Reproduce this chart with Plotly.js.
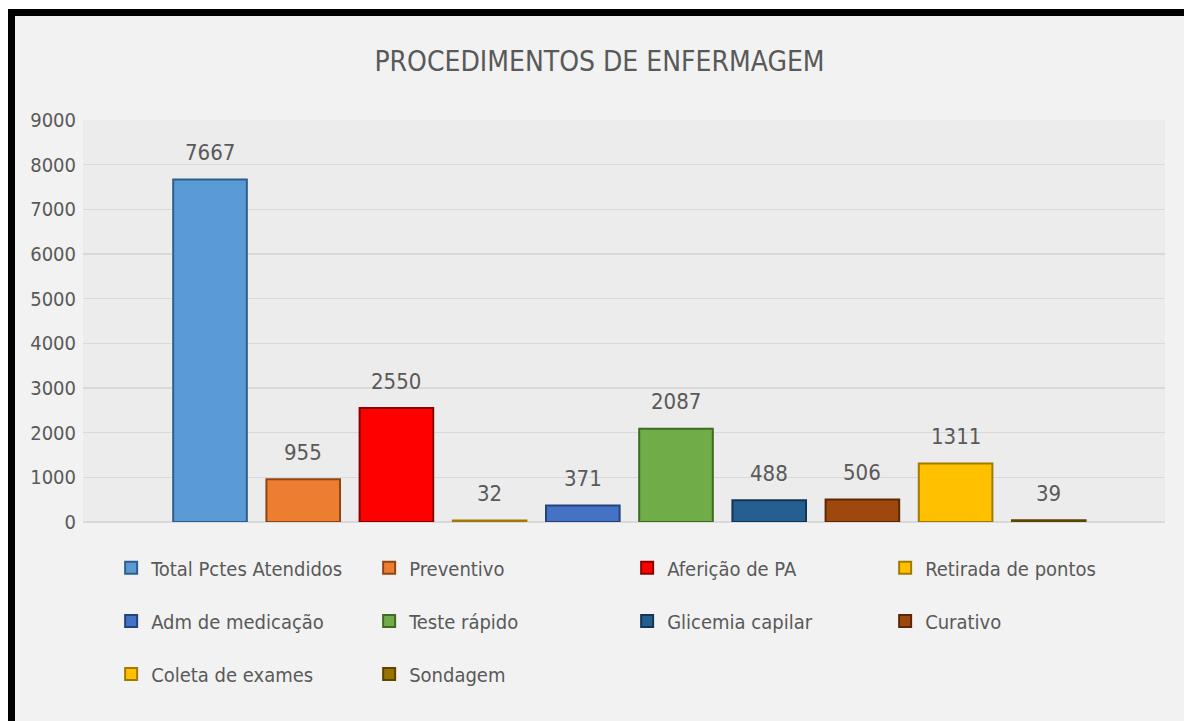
<!DOCTYPE html>
<html>
<head>
<meta charset="utf-8">
<script src="https://cdn.plot.ly/plotly-3.0.1.min.js"></script>
<style>
  html, body { margin: 0; padding: 0; background: #ffffff; width: 1184px; height: 721px; overflow: hidden; }
  #frame { position: absolute; left: 8px; top: 9px; border-left: 7px solid #000; border-top: 7px solid #000; width: 1169px; height: 705px; background: #f2f2f2; }
  #chart { width: 1169px; height: 705px; }
</style>
</head>
<body>
<div id="frame"><div id="chart"></div></div>
<script>
const categories = ['Total Pctes Atendidos', 'Preventivo', 'Aferição de PA', 'Retirada de pontos',
  'Adm de medicação', 'Teste rápido', 'Glicemia capilar', 'Curativo', 'Coleta de exames', 'Sondagem'];
const values = [7667, 955, 2550, 32, 371, 2087, 488, 506, 1311, 39];
const colors = ['#5b9bd5', '#ed7d31', '#ff0000', '#ffc000', '#4472c4', '#70ad47', '#255e91', '#9e480e', '#ffc000', '#997300'];
const edgeColors = ['#2e5f8c', '#8f4514', '#8a0000', '#a37a00', '#24437d', '#3f6b24', '#143656', '#5a2806', '#a37a00', '#5c4500'];
const legendRows = ['legend', 'legend', 'legend', 'legend', 'legend2', 'legend2', 'legend2', 'legend2', 'legend3', 'legend3'];
const yTicks = [0, 1000, 2000, 3000, 4000, 5000, 6000, 7000, 8000, 9000];
const titleText = 'PROCEDIMENTOS DE ENFERMAGEM';

const FONT = 'Liberation Sans Narrow, DejaVu Sans Condensed, Arial Narrow, sans-serif';
const GREY = '#595959';

const traces = categories.map((c, i) => ({
  type: 'bar',
  name: c,
  x: [c],
  y: [values[i]],
  width: 0.79,
  marker: { color: colors[i], line: { color: edgeColors[i], width: 2 } },
  legend: legendRows[i],
  hoverinfo: 'name+y'
}));

const labels = categories.map((c, i) => ({
  x: c, y: values[i], xref: 'x', yref: 'y',
  text: String(values[i]),
  showarrow: false,
  yanchor: 'middle',
  yshift: 27,
  font: { family: FONT, size: 22, color: GREY }
}));

const legendBase = {
  orientation: 'h',
  x: 0.026, xanchor: 'left',
  yanchor: 'middle',
  entrywidth: 213, entrywidthmode: 'pixels',
  itemwidth: 30,
  bgcolor: 'rgba(0,0,0,0)',
  font: { family: FONT, size: 20, color: GREY },
  traceorder: 'normal'
};

const layout = {
  width: 1169, height: 705,
  margin: { l: 68, r: 19, t: 104, b: 199 },
  paper_bgcolor: '#f2f2f2',
  plot_bgcolor: '#ececec',
  barmode: 'overlay',
  title: {
    text: titleText,
    font: { family: FONT, size: 28, color: GREY },
    xref: 'container', x: 0.5, xanchor: 'center',
    yref: 'container', y: 0.936, yanchor: 'middle'
  },
  xaxis: {
    type: 'category',
    categoryorder: 'array', categoryarray: categories,
    range: [-1.363, 10.247],
    showticklabels: false, showgrid: false, zeroline: false, showline: false, ticks: ''
  },
  yaxis: {
    range: [0, 9000],
    tickvals: yTicks,
    ticktext: yTicks.map(String),
    showgrid: true, gridcolor: '#d9d9d9', gridwidth: 1.5,
    zeroline: true, zerolinecolor: '#d9d9d9', zerolinewidth: 1.5,
    showline: false, ticks: '',
    ticklabelstandoff: 6,
    tickfont: { family: FONT, size: 20, color: GREY }
  },
  annotations: labels,
  showlegend: true,
  legend: Object.assign({}, legendBase, { y: -0.114 }),
  legend2: Object.assign({}, legendBase, { y: -0.246 }),
  legend3: Object.assign({}, legendBase, { y: -0.378 })
};

Plotly.newPlot('chart', traces, layout, { displayModeBar: false, staticPlot: true });
</script>
</body>
</html>
